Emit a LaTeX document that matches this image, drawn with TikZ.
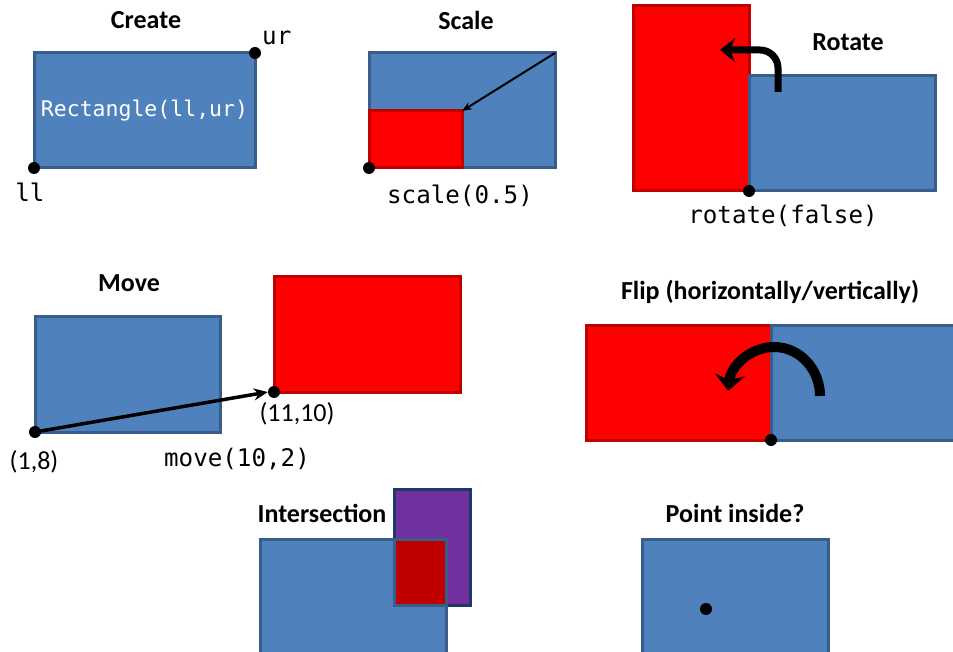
\documentclass[tikz,border=0pt]{standalone}
\usepackage{fontspec}
\setmainfont{Carlito}
\setmonofont{DejaVu Sans Mono}
\usetikzlibrary{arrows.meta}
\definecolor{bluefill}{HTML}{4F81BD}
\definecolor{blueline}{HTML}{385D8A}
\definecolor{redline}{HTML}{C00000}
\definecolor{purplefill}{HTML}{7030A0}
\definecolor{purpleline}{HTML}{1F3864}
\tikzset{
  box/.style={draw, line width=3pt, inner sep=0pt, outer sep=0pt, anchor=south west},
  bluebox/.style={box, draw=blueline, fill=bluefill},
  redbox/.style={box, draw=redline, fill=red},
  corner/.style={circle, fill=black, inner sep=0pt, minimum size=12pt},
  title/.style={font=\bfseries\fontsize{26}{30}\selectfont},
  code/.style={font=\ttfamily\fontsize{24.2}{28}\selectfont, inner sep=0pt},
  coord/.style={font=\fontsize{26}{30}\selectfont, inner sep=0pt},
  turnarrow/.style={line width=7pt, -{Stealth[length=15pt,width=24pt]}}
}

\begin{document}
\begin{tikzpicture}[x=1pt, y=-1pt]
  \useasboundingbox (0,0) rectangle (953,652);

  \node[title] (tcreate) at (146,20) {Create};
  \node[bluebox, minimum width=221pt, minimum height=115pt] (create) at (34,168) {};
  \node[font=\ttfamily\fontsize{21.5}{25}\selectfont, text=white] at (create.center) {Rectangle(ll,ur)};
  \node[corner] (ll) at (create.south west) {};
  \node[corner] (ur) at (create.north east) {};
  \node[code, anchor=west] at (262,38) {ur};
  \node[code] at (30,192) {ll};

  \node[title] (tscale) at (466,20) {Scale};
  \node[bluebox, minimum width=186pt, minimum height=115pt] (big) at (369,168) {};
  \node[redbox, minimum width=93pt, minimum height=57pt] (small) at (369,168) {};
  \node[corner] at (big.south west) {};
  \draw[line width=2pt, -{Stealth[length=10pt,width=8pt]}] (big.north east) -- (small.north east);
  \node[code] at (460,196) {scale(0.5)};

  \node[title] (trotate) at (848,42) {Rotate};
  \node[redbox, minimum width=116pt, minimum height=185pt] (upright) at (633,191) {};
  \node[bluebox, minimum width=186pt, minimum height=115pt] (flat) at (749,191) {};
  \node[corner] at (flat.south west) {};
  \draw[turnarrow] (778,92) -- (778,68) arc[start angle=0, end angle=-90, radius=18] -- (720,50);
  \node[code] at (783,216) {rotate(false)};

  \node[title] (tmove) at (129,283) {Move};
  \node[bluebox, minimum width=185pt, minimum height=115pt] (from) at (35,432) {};
  \node[redbox, minimum width=186pt, minimum height=115pt] (to) at (274,392) {};
  \node[corner] (p1) at (from.south west) {};
  \node[corner] (p2) at (to.south west) {};
  \draw[line width=3.5pt, -{Stealth[length=14pt,width=12pt]}] (p1.center) -- (p2.west);
  \node[coord] at (297,414) {(11,10)};
  \node[coord] at (34,462) {(1,8)};
  \node[code] at (237,459) {move(10,2)};

  \node[title] (tflip) at (770,292) {Flip (horizontally/vertically)};
  \node[redbox, minimum width=185pt, minimum height=115pt] (mirror) at (586,440) {};
  \node[bluebox, minimum width=190pt, minimum height=115pt] (orig) at (771,440) {};
  \node[corner] at (orig.south west) {};
  \draw[line width=10pt, -{Stealth[length=16pt,width=30pt]}] (820,396) arc[start angle=0, end angle=-174, x radius=46, y radius=49];

  \node[title] (tinter) at (322,513) {Intersection};
  \node[box, draw=purpleline, fill=purplefill, minimum width=76pt, minimum height=116pt] (other) at (394,605) {};
  \node[bluebox, minimum width=186pt, minimum height=125pt] (base) at (260,664) {};
  \node[box, draw=blueline, fill=redline, minimum width=52pt, minimum height=66pt] (common) at (394,605) {};

  \node[title] (tinside) at (735,513) {Point inside?};
  \node[bluebox, minimum width=186pt, minimum height=125pt] (area) at (642,664) {};
  \node[corner] (pt) at (706,609) {};
\end{tikzpicture}
\end{document}
